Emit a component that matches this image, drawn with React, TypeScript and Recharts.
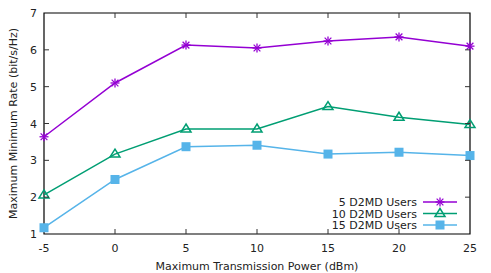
import { LineChart, Line, XAxis, YAxis, ReferenceArea } from "recharts";
import type { CSSProperties } from "react";

const powers = [-5, 0, 5, 10, 15, 20, 25];
const users5 = [3.64, 5.1, 6.13, 6.05, 6.24, 6.35, 6.1];
const users10 = [2.06, 3.17, 3.85, 3.85, 4.46, 4.17, 3.97];
const users15 = [1.17, 2.48, 3.37, 3.41, 3.17, 3.22, 3.13];

const xTicks = [-5, 0, 5, 10, 15, 20, 25];
const yTicks = [1, 2, 3, 4, 5, 6, 7];

const seriesNames = ["5 D2MD Users", "10 D2MD Users", "15 D2MD Users"];
const COLORS = ["#9400D3", "#009E73", "#56B4E9"];

const data = powers.map((p, i) => ({
  power: p,
  u5: users5[i],
  u10: users10[i],
  u15: users15[i],
}));

// plot frame (pixels inside the chart)
const W = 491;
const H = 273;
const LEFT = 44;
const RIGHT = 470;
const TOP = 13;
const BOTTOM = 234;
const FONT = "'DejaVu Sans', sans-serif";
const TICK = 5;

const Star = ({ cx, cy, color }: any) => {
  const r = 4.5;
  const d = r * 0.75;
  return (
    <g stroke={color} strokeWidth={1.3}>
      <line x1={cx - r} y1={cy} x2={cx + r} y2={cy} />
      <line x1={cx} y1={cy - r} x2={cx} y2={cy + r} />
      <line x1={cx - d} y1={cy - d} x2={cx + d} y2={cy + d} />
      <line x1={cx - d} y1={cy + d} x2={cx + d} y2={cy - d} />
    </g>
  );
};

const Triangle = ({ cx, cy, color }: any) => (
  <polygon
    points={`${cx},${cy - 5} ${cx - 5},${cy + 3} ${cx + 5},${cy + 3}`}
    fill="none"
    stroke={color}
    strokeWidth={1.5}
  />
);

const Square = ({ cx, cy, color }: any) => (
  <rect x={cx - 4.5} y={cy - 4.5} width={9} height={9} fill={color} />
);

const MARKERS = [Star, Triangle, Square];

const makeDot = (idx: number) => (props: any) => {
  const M = MARKERS[idx];
  if (props.cx == null || props.cy == null) return <g key={props.index} />;
  return <M key={props.index} cx={props.cx} cy={props.cy} color={COLORS[idx]} />;
};

const XTick = ({ x, payload }: any) => {
  const v = payload.value;
  const inner = v !== -5 && v !== 25;
  return (
    <g>
      <text x={x} y={BOTTOM + 18} textAnchor="middle" fontSize={11} fontFamily={FONT} fill="#222">
        {v}
      </text>
      {inner && (
        <g stroke="#333" strokeWidth={1}>
          <line x1={x} y1={BOTTOM} x2={x} y2={BOTTOM - TICK} />
          <line x1={x} y1={TOP} x2={x} y2={TOP + TICK} />
        </g>
      )}
    </g>
  );
};

const YTick = ({ y, payload }: any) => {
  const v = payload.value;
  const inner = v !== 1 && v !== 7;
  return (
    <g>
      <text x={LEFT - 7} y={y + 4} textAnchor="end" fontSize={11} fontFamily={FONT} fill="#222">
        {v}
      </text>
      {inner && (
        <g stroke="#333" strokeWidth={1}>
          <line x1={LEFT} y1={y} x2={LEFT + TICK} y2={y} />
          <line x1={RIGHT} y1={y} x2={RIGHT - TICK} y2={y} />
        </g>
      )}
    </g>
  );
};

const YLabel = ({ viewBox }: any) => {
  const cx = 17;
  const cy = viewBox.y + viewBox.height / 2;
  return (
    <text
      x={cx}
      y={cy}
      transform={`rotate(-90 ${cx} ${cy})`}
      textAnchor="middle"
      fontSize={11}
      fontFamily={FONT}
      fill="#222"
    >
      Maximum Minimum Rate (bit/s/Hz)
    </text>
  );
};

const legendText: CSSProperties = {
  fontSize: 11,
  fontFamily: FONT,
  fill: "#222",
};

const ChartLegend = () => (
  <svg
    width={200}
    height={45}
    style={{ position: "absolute", left: 280, top: 195 }}
  >
    {seriesNames.map((name, i) => {
      const y = 7 + i * 11.5;
      const M = MARKERS[i];
      return (
        <g key={name}>
          <text x={137} y={y + 4} textAnchor="end" style={legendText}>
            {name}
          </text>
          <line x1={143} y1={y} x2={177} y2={y} stroke={COLORS[i]} strokeWidth={1.5} />
          <M cx={160} cy={y} color={COLORS[i]} />
        </g>
      );
    })}
  </svg>
);

export default function App() {
  return (
    <div style={{ position: "absolute", left: 0, top: 0, width: W, height: H, background: "#fff" }}>
      <LineChart
        width={W}
        height={H}
        data={data}
        margin={{ top: TOP, right: W - RIGHT, left: 0, bottom: 0 }}
      >
        <XAxis
          dataKey="power"
          type="number"
          domain={[-5, 25]}
          ticks={xTicks}
          height={H - BOTTOM}
          axisLine={false}
          tickLine={false}
          tick={<XTick />}
          interval={0}
          label={{
            value: "Maximum Transmission Power (dBm)",
            position: "insideBottom",
            offset: 3,
            style: { fontSize: 11, fontFamily: FONT, fill: "#222" },
          }}
        />
        <YAxis
          type="number"
          domain={[1, 7]}
          ticks={yTicks}
          width={LEFT}
          axisLine={false}
          tickLine={false}
          tick={<YTick />}
          interval={0}
          label={<YLabel />}
        />
        <ReferenceArea
          x1={-5}
          x2={25}
          y1={1}
          y2={7}
          fill="none"
          fillOpacity={0}
          stroke="#000"
          strokeWidth={1.2}
          ifOverflow="visible"
        />
        <Line
          dataKey="u5"
          stroke={COLORS[0]}
          strokeWidth={1.5}
          dot={makeDot(0)}
          isAnimationActive={false}
        />
        <Line
          dataKey="u10"
          stroke={COLORS[1]}
          strokeWidth={1.5}
          dot={makeDot(1)}
          isAnimationActive={false}
        />
        <Line
          dataKey="u15"
          stroke={COLORS[2]}
          strokeWidth={1.5}
          dot={makeDot(2)}
          isAnimationActive={false}
        />
      </LineChart>
      <ChartLegend />
    </div>
  );
}
